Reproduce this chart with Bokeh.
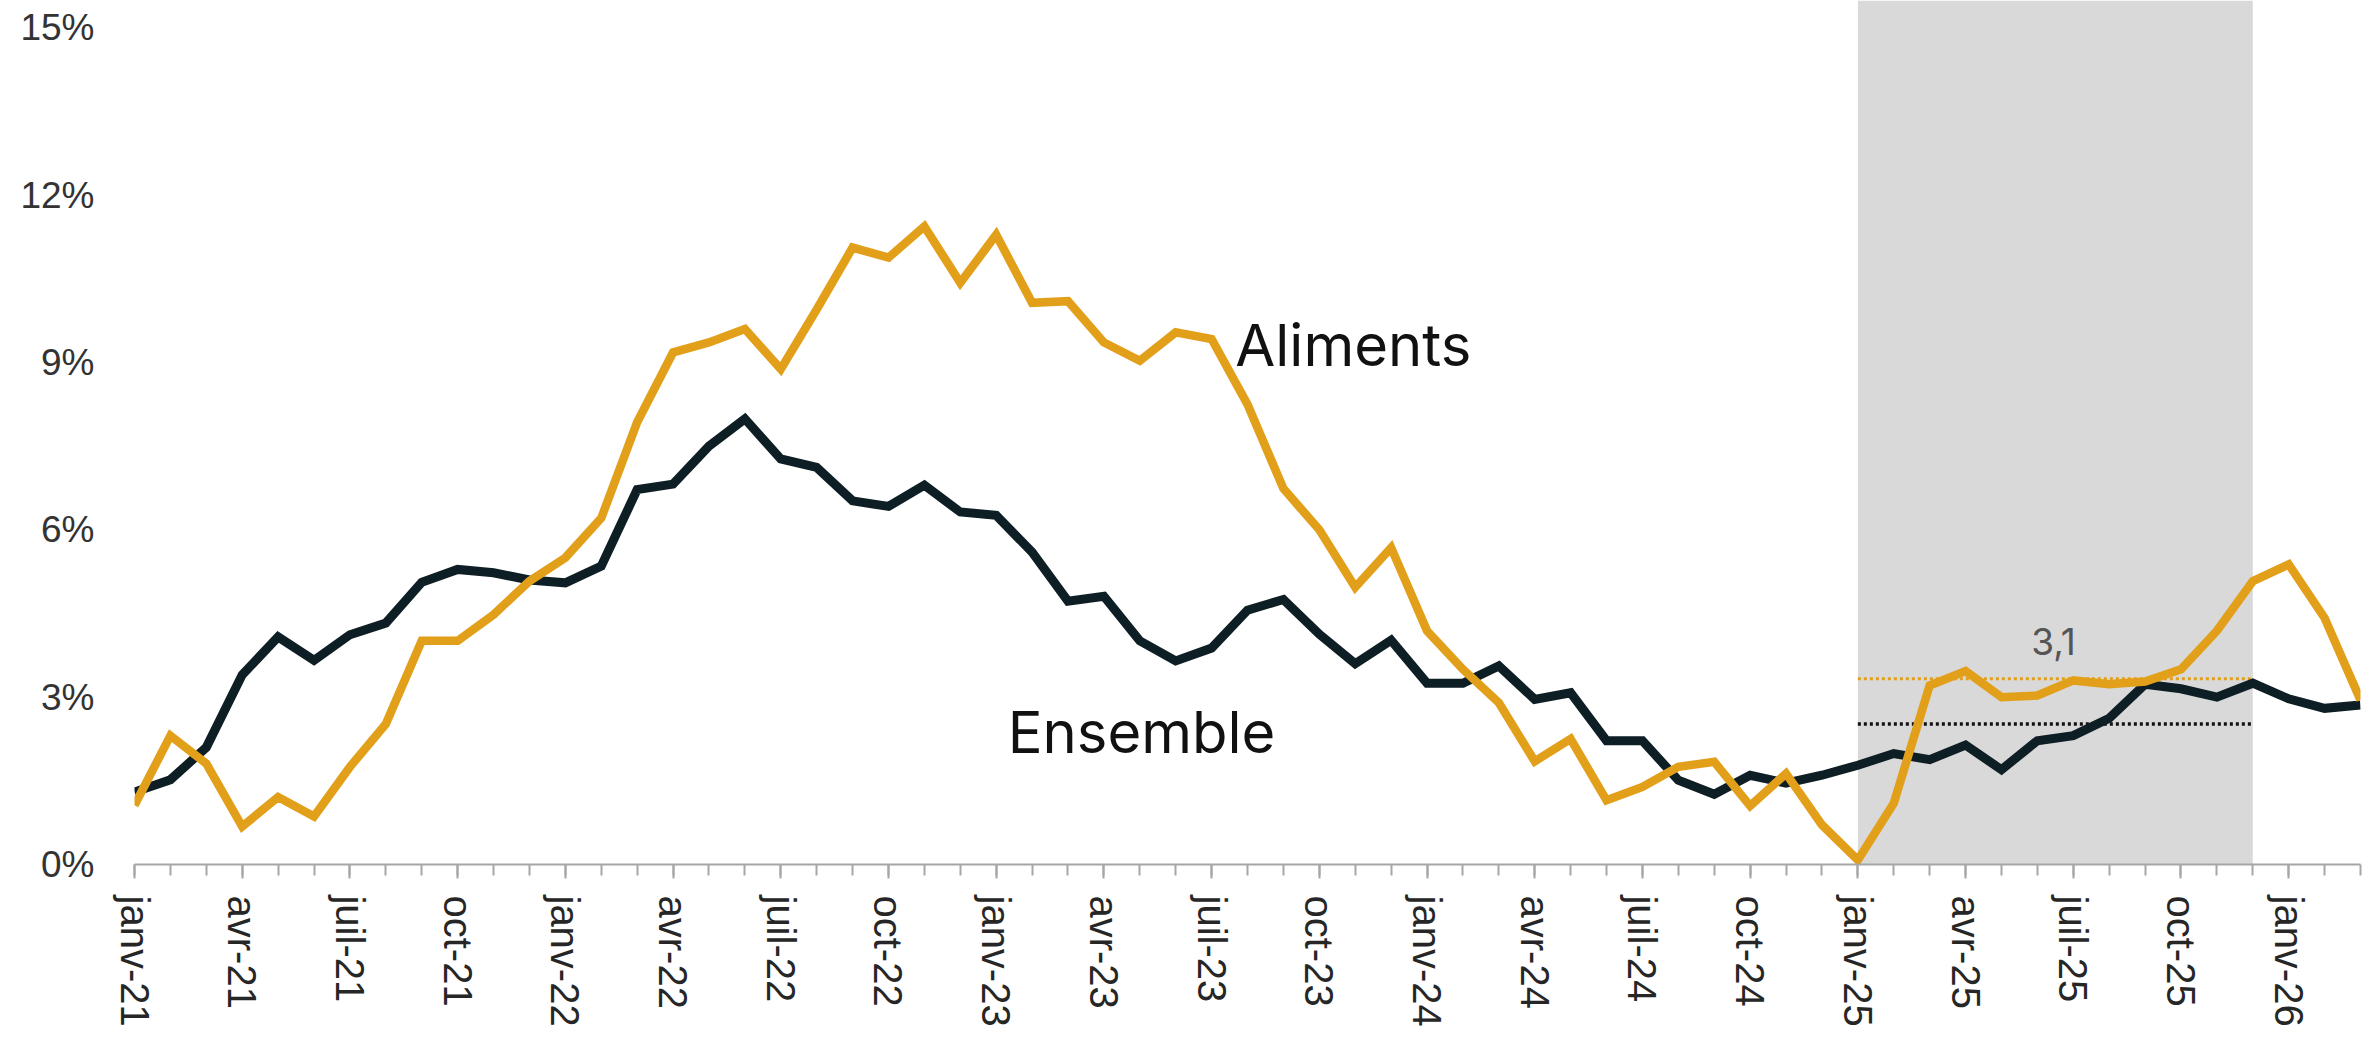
from bokeh.plotting import figure
from bokeh.models import FixedTicker, Range1d, BoxAnnotation, Label
from bokeh.embed import file_html
from bokeh.resources import INLINE

# ---------------- data ----------------
MONTH_NAMES = ["janv", "févr", "mars", "avr", "mai", "juin",
               "juil", "août", "sept", "oct", "nov", "déc"]
YEARS = ["21", "22", "23", "24", "25", "26"]
months = [f"{m}-{y}" for y in YEARS for m in MONTH_NAMES][:63]   # janv-21 .. mars-26

ensemble = [1.30, 1.52, 2.10, 3.40, 4.08, 3.66, 4.12, 4.33, 5.06, 5.29, 5.23, 5.10,
            5.05, 5.35, 6.72, 6.82, 7.50, 7.99, 7.27, 7.12, 6.52, 6.42, 6.80, 6.32,
            6.26, 5.60, 4.72, 4.81, 4.01, 3.65, 3.88, 4.56, 4.75, 4.13, 3.60, 4.02,
            3.25, 3.25, 3.56, 2.96, 3.08, 2.22, 2.22, 1.51, 1.26, 1.60, 1.46, 1.60,
            1.78, 1.99, 1.88, 2.14, 1.70, 2.22, 2.31, 2.62, 3.23, 3.15, 3.00, 3.25,
            2.97, 2.80, 2.86]

aliments = [1.06, 2.31, 1.81, 0.68, 1.21, 0.86, 1.75, 2.52, 4.01, 4.01, 4.48, 5.08,
            5.50, 6.21, 7.93, 9.18, 9.36, 9.60, 8.88, 9.95, 11.06, 10.88, 11.44, 10.43,
            11.29, 10.07, 10.10, 9.36, 9.03, 9.54, 9.42, 8.25, 6.74, 6.00, 4.97, 5.68,
            4.19, 3.50, 2.90, 1.85, 2.25, 1.15, 1.39, 1.75, 1.84, 1.05, 1.63, 0.71,
            0.08, 1.10, 3.21, 3.47, 3.00, 3.03, 3.30, 3.23, 3.28, 3.50, 4.19, 5.08,
            5.38, 4.42, 2.95]

tick_labels = ["janv-21", "avr-21", "juil-21", "oct-21", "janv-22", "avr-22", "juil-22",
               "oct-22", "janv-23", "avr-23", "juil-23", "oct-23", "janv-24", "avr-24",
               "juil-24", "oct-24", "janv-25", "avr-25", "juil-25", "oct-25", "janv-26"]
y_ticks = [0, 3, 6, 9, 12, 15]
y_tick_labels = ["0%", "3%", "6%", "9%", "12%", "15%"]

period_start, period_end = "janv-25", "déc-25"
avg_aliments = 3.33
avg_ensemble = 2.52
avg_label = "3,1"

# ---------------- figure ----------------
ORANGE = "#E2A01A"
DARK = "#0E1E25"

x = list(range(len(months)))
p = figure(width=2371, height=1029, output_backend="svg", toolbar_location=None,
           x_range=Range1d(0, len(months) - 1), y_range=Range1d(0, 15.49),
           min_border_left=134, min_border_right=11, min_border_top=0,
           min_border_bottom=161)
p.outline_line_color = None
p.xgrid.visible = False
p.ygrid.visible = False
p.background_fill_color = "white"

xs = months.index(period_start)
xe = months.index(period_end)
p.add_layout(BoxAnnotation(left=xs, right=xe, fill_color="#D9D9D9", fill_alpha=1.0,
                           line_color=None, level="underlay"))

p.line([xs, xe], [avg_aliments, avg_aliments], line_color=ORANGE, line_width=3,
       line_dash="3 3")
p.line([xs, xe], [avg_ensemble, avg_ensemble], line_color="#111111", line_width=3.5,
       line_dash="3 3")

p.line(x, ensemble, line_color=DARK, line_width=9, line_join="miter")
p.line(x, aliments, line_color=ORANGE, line_width=8.5, line_join="miter")

p.add_layout(Label(x=30.66, y=9.31, text="Aliments", text_font="Inter",
                   text_font_size="58px", text_color="#111111",
                   text_baseline="alphabetic"))
p.add_layout(Label(x=24.32, y=2.37, text="Ensemble", text_font="Inter",
                   text_font_size="58px", text_color="#111111",
                   text_baseline="alphabetic"))
p.add_layout(Label(x=52.83, y=4.00, text=avg_label, text_font="Inter",
                   text_font_size="37px", text_color="#555555",
                   text_font_style="normal", text_baseline="alphabetic"))

# x axis
quarter_ticks = [months.index(t) for t in tick_labels]
p.xaxis.ticker = FixedTicker(ticks=quarter_ticks, minor_ticks=x)
p.xaxis.major_label_overrides = {t: l for t, l in zip(quarter_ticks, tick_labels)}
p.xaxis.major_label_orientation = "vertical"
p.xaxis.major_label_text_font = "Liberation Sans"
p.xaxis.major_label_text_font_size = "40px"
p.xaxis.major_label_text_color = "#262626"
p.xaxis.major_label_standoff = 17
p.xaxis.axis_line_color = "#A6A6A6"
p.xaxis.axis_line_width = 2
p.xaxis.major_tick_line_color = "#A6A6A6"
p.xaxis.minor_tick_line_color = "#A6A6A6"
p.xaxis.major_tick_line_width = 2
p.xaxis.minor_tick_line_width = 2
p.xaxis.major_tick_out = 14
p.xaxis.major_tick_in = 0
p.xaxis.minor_tick_out = 11
p.xaxis.minor_tick_in = 0

# y axis
p.yaxis.ticker = FixedTicker(ticks=y_ticks)
p.yaxis.major_label_overrides = {t: l for t, l in zip(y_ticks, y_tick_labels)}
p.yaxis.major_label_text_font = "Liberation Sans"
p.yaxis.major_label_text_font_size = "37px"
p.yaxis.major_label_text_color = "#333333"
p.yaxis.axis_line_color = None
p.yaxis.major_tick_line_color = None
p.yaxis.minor_tick_line_color = None
p.yaxis.major_tick_out = 0
p.yaxis.minor_tick_out = 0
p.yaxis.major_label_standoff = 40

open("out.html", "w").write(file_html(p, INLINE))
